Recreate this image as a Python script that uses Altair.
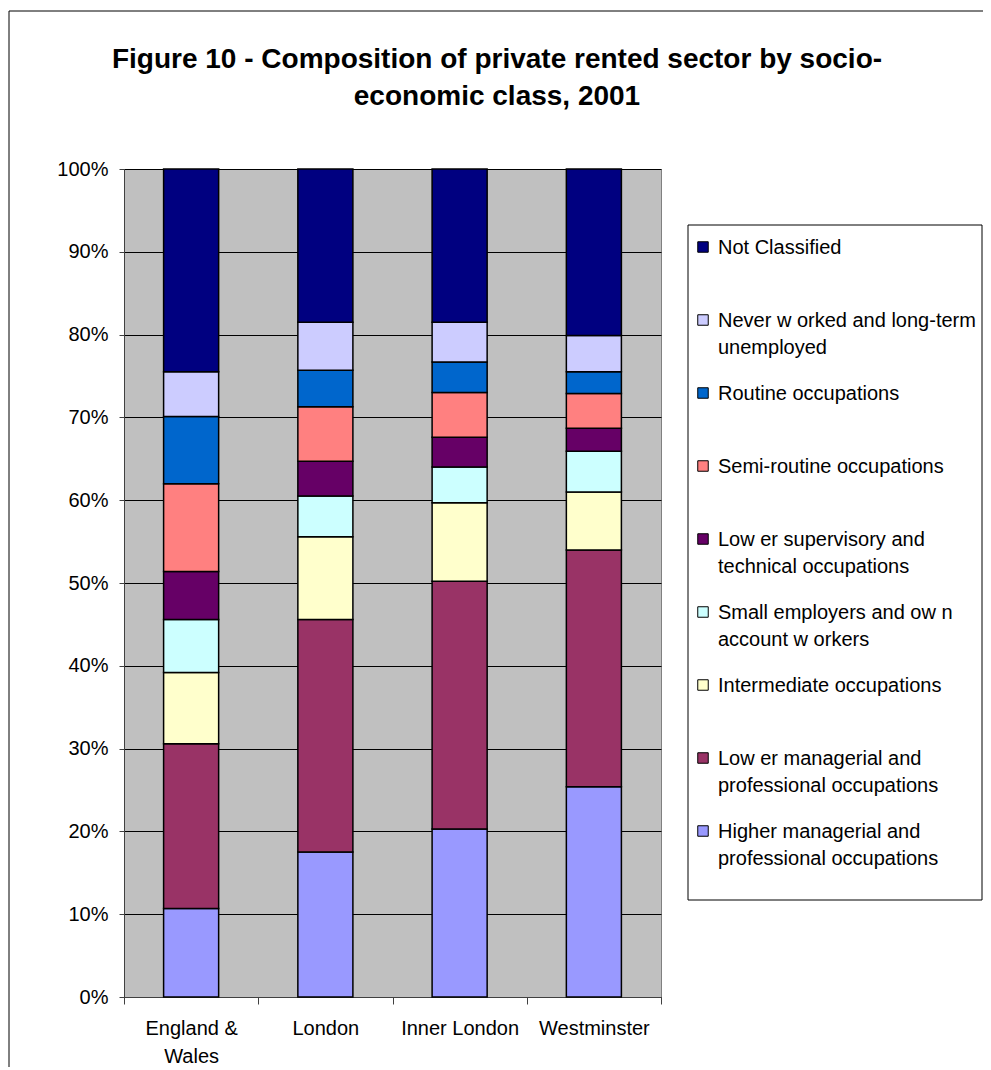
import altair as alt
import pandas as pd

FONT = "Liberation Sans"

# ---- data ----
regions = ["England & Wales", "London", "Inner London", "Westminster"]

# classes listed bottom (first) to top (last) of each stacked bar
classes = [
    "Higher managerial and professional occupations",
    "Lower managerial and professional occupations",
    "Intermediate occupations",
    "Small employers and own account workers",
    "Lower supervisory and technical occupations",
    "Semi-routine occupations",
    "Routine occupations",
    "Never worked and long-term unemployed",
    "Not Classified",
]

legend_labels = [
    "Higher managerial and\nprofessional occupations",
    "Low er managerial and\nprofessional occupations",
    "Intermediate occupations",
    "Small employers and ow n\naccount w orkers",
    "Low er supervisory and\ntechnical occupations",
    "Semi-routine occupations",
    "Routine occupations",
    "Never w orked and long-term\nunemployed",
    "Not Classified",
]

colors = [
    "#9999FF", "#993366", "#FFFFCC", "#CCFFFF", "#660066",
    "#FF8080", "#0066CC", "#CCCCFF", "#000080",
]

# shares (%) in the same order as classes
england_wales = [10.7, 19.9, 8.6, 6.4, 5.8, 10.6, 8.1, 5.4, 24.5]
london = [17.5, 28.1, 10.0, 4.9, 4.2, 6.6, 4.4, 5.8, 18.5]
inner_london = [20.3, 29.9, 9.5, 4.3, 3.6, 5.4, 3.7, 4.8, 18.5]
westminster = [25.4, 28.6, 7.0, 4.9, 2.8, 4.2, 2.6, 4.4, 20.1]

y_ticks = [0, 0.1, 0.2, 0.3, 0.4, 0.5, 0.6, 0.7, 0.8, 0.9, 1.0]

title_lines = [
    "Figure 10 - Composition of private rented sector by socio-",
    "economic class, 2001",
]

# ---- tables ----
rows = []
for region, vals in zip(regions, [england_wales, london, inner_london, westminster]):
    for i, (c, v) in enumerate(zip(classes, vals)):
        rows.append({"region": region, "cls": c, "idx": i, "value": v})
df = pd.DataFrame(rows)

legend_df = pd.DataFrame({"cls": classes, "label": legend_labels})
legend_order = list(reversed(classes))

W, H = 537, 828
one = alt.Data(values=[{"k": 1}])
color_scale = alt.Scale(domain=classes, range=colors)

frame = alt.Chart(one).mark_rect(fill="transparent", stroke="black", strokeWidth=1).encode(
    x=alt.value(-115), x2=alt.value(900), y=alt.value(-158), y2=alt.value(1000)
)

bars = alt.Chart(df).mark_bar(
    width=alt.RelativeBandSize(0.41), stroke="black", strokeWidth=1.5
).encode(
    x=alt.X(
        "region:N",
        sort=regions,
        scale=alt.Scale(paddingInner=0, paddingOuter=0),
        axis=alt.Axis(
            title=None, labelAngle=0, tickBand="extent", tickSize=7,
            tickColor="#404040", domainColor="#404040", labelPadding=14,
            labelFont=FONT, labelFontSize=20, labelColor="black",
            labelLineHeight=28, labelLimit=300, grid=False,
            labelExpr="datum.label == 'England & Wales' ? ['England &', 'Wales'] : datum.label",
        ),
    ),
    y=alt.Y(
        "value:Q",
        stack="normalize",
        scale=alt.Scale(domain=[0, 1], nice=False),
        axis=alt.Axis(
            title=None, format=".0%", values=y_ticks, grid=True,
            gridColor="black", gridWidth=1, gridOpacity=1,
            domainColor="#404040", tickColor="#404040", tickSize=5,
            labelPadding=11, labelFont=FONT, labelFontSize=20, labelColor="black",
        ),
    ),
    color=alt.Color("cls:N", scale=color_scale, legend=None),
    order=alt.Order("idx:Q", sort="ascending"),
)

title = alt.Chart(one).mark_text(
    text=title_lines, font=FONT, fontSize=28, fontWeight="bold",
    align="center", baseline="top", lineHeight=37, color="black",
).encode(x=alt.value(373), y=alt.value(-123))

legend_box = alt.Chart(one).mark_rect(fill="white", stroke="black", strokeWidth=1).encode(
    x=alt.value(564), x2=alt.value(858), y=alt.value(56), y2=alt.value(731)
)

leg_y = alt.Scale(type="point", domain=legend_order, range=[78, 662], padding=0)

leg_sq = alt.Chart(legend_df).mark_square(
    size=110, opacity=1, stroke="black", strokeWidth=1
).encode(
    x=alt.value(579),
    y=alt.Y("cls:N", scale=leg_y, axis=None),
    color=alt.Color("cls:N", scale=color_scale, legend=None),
)

leg_txt = alt.Chart(legend_df).mark_text(
    font=FONT, fontSize=20, align="left", baseline="top", dy=-9,
    lineBreak="\n", lineHeight=27, color="black",
).encode(
    x=alt.value(594),
    y=alt.Y("cls:N", scale=leg_y, axis=None),
    text="label:N",
)

chart = (
    alt.layer(frame, bars, title, legend_box, leg_sq, leg_txt)
    .resolve_scale(y="independent")
    .properties(
        width=W, height=H,
        padding={"left": 116, "top": 161, "right": 322, "bottom": 70},
        autosize=alt.AutoSizeParams(type="none"),
        background="white",
    )
    .configure_view(fill="#C0C0C0", stroke="#808080", strokeWidth=1)
)

chart.save("out.html", embed_options={"renderer": "svg", "actions": False})
